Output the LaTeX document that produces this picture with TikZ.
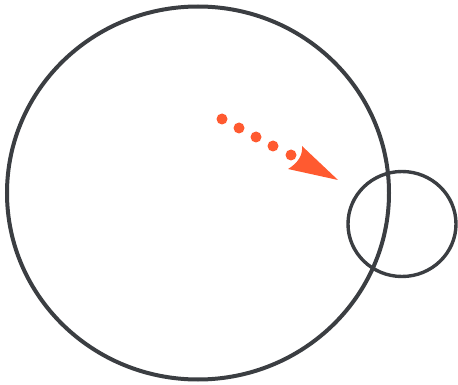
\documentclass[tikz,border=0pt]{standalone}
\usetikzlibrary{shapes.geometric}
\definecolor{ink}{HTML}{3B3E42}
\definecolor{arrowred}{HTML}{FF5A30}
\begin{document}
\begin{tikzpicture}[x=1pt,y=-1pt,
  outline/.style={draw=ink,ellipse,inner sep=0pt,fill=none},
  dotmark/.style={fill=arrowred,draw=none}]
\useasboundingbox (0,0) rectangle (458,385);
\node[outline,line width=4pt,minimum width=382pt,minimum height=373pt] (big) at (198,193) {};
\node[outline,line width=3.4pt,minimum width=108pt,minimum height=105pt] (small) at (402,224) {};
\foreach \x/\y in {222/119,239/128,256/137,273/146,291/155}
  \fill[dotmark] (\x,\y) circle (5.5);
\coordinate (tip) at (338,180);
\fill[arrowred] (302,146) -- (tip) -- (288,169) .. controls (298,163) and (303,155) .. (302,146) -- cycle;
\end{tikzpicture}
\end{document}
